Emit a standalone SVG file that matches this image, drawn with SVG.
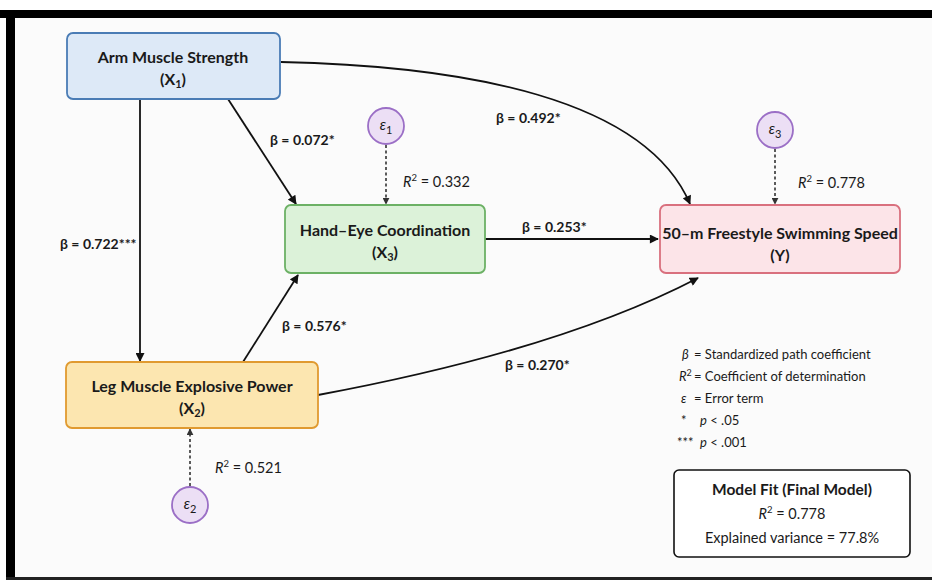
<svg xmlns="http://www.w3.org/2000/svg" width="932" height="580" viewBox="0 0 932 580">
<defs>
<style>
text{font-family:Lato,"Liberation Sans","Noto Sans",Arial,sans-serif;fill:#1a1a1a}
.nt{font-size:16px;font-weight:bold;text-anchor:middle}
.lb{font-size:14px;font-weight:bold}
.r2{font-size:14.5px}
.lg{font-size:13px}
.conn{fill:none;stroke:#111;stroke-width:1.8}
.dash{fill:none;stroke:#333;stroke-width:1.6;stroke-dasharray:3 2.5}
.err{fill:#ecdff5;stroke:#9b6fc6;stroke-width:1.8}
.et{font-size:15px;font-style:italic;text-anchor:middle}
</style>
<marker id="ah" viewBox="0 0 10 10" refX="9" refY="5" markerWidth="10" markerHeight="9" orient="auto" markerUnits="userSpaceOnUse">
<path d="M0,0 L10,5 L0,10 z" fill="#111"/>
</marker>
<marker id="ahd" viewBox="0 0 10 10" refX="9" refY="5" markerWidth="7" markerHeight="7" orient="auto" markerUnits="userSpaceOnUse">
<path d="M0,0 L10,5 L0,10 z" fill="#333"/>
</marker>
</defs>
<rect x="0" y="0" width="932" height="580" fill="#ffffff"/>
<rect x="12" y="16" width="920" height="562" fill="#fbfbfb"/>
<rect x="0" y="10" width="932" height="8" fill="#000"/>
<rect x="6" y="10" width="9" height="570" fill="#000"/>
<rect x="6" y="577" width="926" height="3" fill="#222"/>

<g id="connectors">
<path class="conn" d="M140,99 L140,361" marker-end="url(#ah)"/>
<path class="conn" d="M228,99 L296,204" marker-end="url(#ah)"/>
<path class="conn" d="M281,62 C465,66 645,98 690,204" marker-end="url(#ah)"/>
<path class="conn" d="M485,239 L658,239" marker-end="url(#ah)"/>
<path class="conn" d="M243,362 L298,275" marker-end="url(#ah)"/>
<path class="conn" d="M318,395 Q560,350 698,278" marker-end="url(#ah)"/>
<path class="dash" d="M386,145 L386,204" marker-end="url(#ahd)"/>
<path class="dash" d="M775,149 L775,204" marker-end="url(#ahd)"/>
<path class="dash" d="M190,486 L190,429" marker-end="url(#ahd)"/>
<text class="lb" x="496" y="123">β = 0.492*</text>
<text class="lb" x="60" y="249">β = 0.722***</text>
<text class="lb" x="270" y="145">β = 0.072*</text>
<text class="lb" x="522" y="232">β = 0.253*</text>
<text class="lb" x="282" y="331">β = 0.576*</text>
<text class="lb" x="505" y="370">β = 0.270*</text>
</g>

<g id="x1">
<rect x="67" y="33" width="213" height="66" rx="6" fill="#dde9f7" stroke="#4a7cb5" stroke-width="1.8"/>
<text class="nt" x="173" y="63">Arm Muscle Strength</text>
<text class="nt" x="173" y="85">(X<tspan font-size="11" dy="3">1</tspan><tspan dy="-3">)</tspan></text>
</g>
<g id="x3">
<rect x="285" y="205" width="200" height="68" rx="6" fill="#dcf2d9" stroke="#6cb165" stroke-width="1.8"/>
<text class="nt" x="385" y="236">Hand–Eye Coordination</text>
<text class="nt" x="385" y="258">(X<tspan font-size="11" dy="3">3</tspan><tspan dy="-3">)</tspan></text>
</g>
<g id="y">
<rect x="660" y="205" width="240" height="68" rx="6" fill="#fce4e8" stroke="#d9707e" stroke-width="1.8"/>
<text class="nt" x="780" y="239" font-size="14.8">50–m Freestyle Swimming Speed</text>
<text class="nt" x="780" y="261">(Y)</text>
</g>
<g id="x2">
<rect x="66" y="362" width="252" height="66" rx="6" fill="#fce6b0" stroke="#e09a30" stroke-width="1.8"/>
<text class="nt" x="192" y="392">Leg Muscle Explosive Power</text>
<text class="nt" x="192" y="414">(X<tspan font-size="11" dy="3">2</tspan><tspan dy="-3">)</tspan></text>
</g>
<g id="e1">
<circle class="err" cx="386" cy="126" r="18"/>
<text class="et" x="386" y="130">ε<tspan font-size="11" font-style="normal" dy="4">1</tspan></text>
<text class="r2" x="403" y="187"><tspan font-style="italic">R</tspan><tspan font-size="9.5" dy="-6">2</tspan><tspan dy="6"> = 0.332</tspan></text>
</g>
<g id="e3">
<circle class="err" cx="775" cy="130" r="18"/>
<text class="et" x="775" y="134">ε<tspan font-size="11" font-style="normal" dy="4">3</tspan></text>
<text class="r2" x="798" y="188"><tspan font-style="italic">R</tspan><tspan font-size="9.5" dy="-6">2</tspan><tspan dy="6"> = 0.778</tspan></text>
</g>
<g id="e2">
<circle class="err" cx="190" cy="505" r="18"/>
<text class="et" x="190" y="509">ε<tspan font-size="11" font-style="normal" dy="4">2</tspan></text>
<text class="r2" x="215" y="473"><tspan font-style="italic">R</tspan><tspan font-size="9.5" dy="-6">2</tspan><tspan dy="6"> = 0.521</tspan></text>
</g>

<g id="legend">
<text class="lg" x="682" y="359" font-style="italic">β</text>
<text class="lg" x="694" y="359">= Standardized path coefficient</text>
<text class="lg" x="679" y="381"><tspan font-style="italic">R</tspan><tspan font-size="9" dy="-5">2</tspan></text>
<text class="lg" x="694" y="381">= Coefficient of determination</text>
<text class="lg" x="681" y="403" font-style="italic">ε</text>
<text class="lg" x="694" y="403">= Error term</text>
<text class="lg" x="681" y="425">*</text>
<text class="lg" x="700" y="425"><tspan font-style="italic">p</tspan> &lt; .05</text>
<text class="lg" x="677" y="447" font-size="10">***</text>
<text class="lg" x="700" y="447"><tspan font-style="italic">p</tspan> &lt; .001</text>
</g>

<g id="modelfit">
<rect x="674" y="470" width="236" height="87" rx="5" fill="#ffffff" stroke="#111" stroke-width="1.6"/>
<text x="792" y="495" font-size="15.5" font-weight="bold" text-anchor="middle">Model Fit (Final Model)</text>
<text x="792" y="519" font-size="14.5" text-anchor="middle"><tspan font-style="italic">R</tspan><tspan font-size="9.5" dy="-6">2</tspan><tspan dy="6"> = 0.778</tspan></text>
<text x="792" y="543" font-size="14.5" text-anchor="middle">Explained variance = 77.8%</text>
</g>
</svg>
